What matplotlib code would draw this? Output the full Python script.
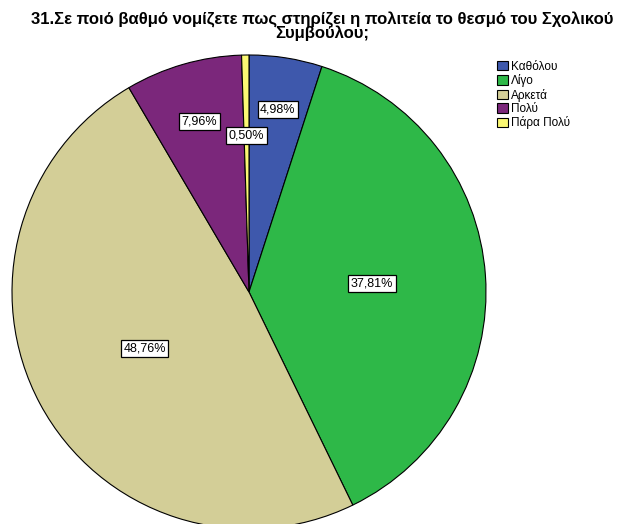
import matplotlib.pyplot as plt
import numpy as np

# data
categories = ['Καθόλου', 'Λίγο', 'Αρκετά', 'Πολύ', 'Πάρα Πολύ']
percents = [4.98, 37.81, 48.76, 7.96, 0.50]
colors = ['#3E58AC', '#2EB848', '#D3CE97', '#7B277B', '#FBF873']
title = '31.Σε ποιό βαθμό νομίζετε πως στηρίζει η πολιτεία το θεσμό του Σχολικού\nΣυμβούλου;'

# distance of each label from the center (fraction of radius)
label_r = [0.78, 0.52, 0.50, 0.75, 0.66]

plt.rcParams['font.family'] = ['Liberation Sans', 'DejaVu Sans']

fig = plt.figure(figsize=(6.26, 5.24), dpi=100)
ax = fig.add_axes([12 / 626, -5 / 524, 474 / 626, 474 / 524])

wedges, _ = ax.pie(percents, colors=colors, startangle=90, counterclock=False,
                   radius=1.0,
                   wedgeprops=dict(edgecolor='black', linewidth=0.8))
ax.set_xlim(-1.0, 1.0)
ax.set_ylim(-1.0, 1.0)
ax.set_aspect('equal')
ax.axis('off')

for w, p, r in zip(wedges, percents, label_r):
    ang = np.deg2rad((w.theta1 + w.theta2) / 2)
    ax.text(r * np.cos(ang), r * np.sin(ang), f'{p:.2f}%'.replace('.', ','),
            ha='center', va='center', fontsize=9,
            bbox=dict(boxstyle='square,pad=0.2', facecolor='white',
                      edgecolor='black', linewidth=0.9))

fig.text(0.515, 0.978, title, ha='center', va='top', fontsize=12,
         fontweight='bold', linespacing=0.85)

leg = fig.legend(wedges, categories, loc='upper left',
                 bbox_to_anchor=(492 / 626, 1 - 56 / 524),
                 frameon=False, fontsize=8.5, handlelength=0.95,
                 handleheight=0.85, handletextpad=0.25, labelspacing=0.12,
                 borderaxespad=0)

plt.savefig('out.png', dpi=100)
